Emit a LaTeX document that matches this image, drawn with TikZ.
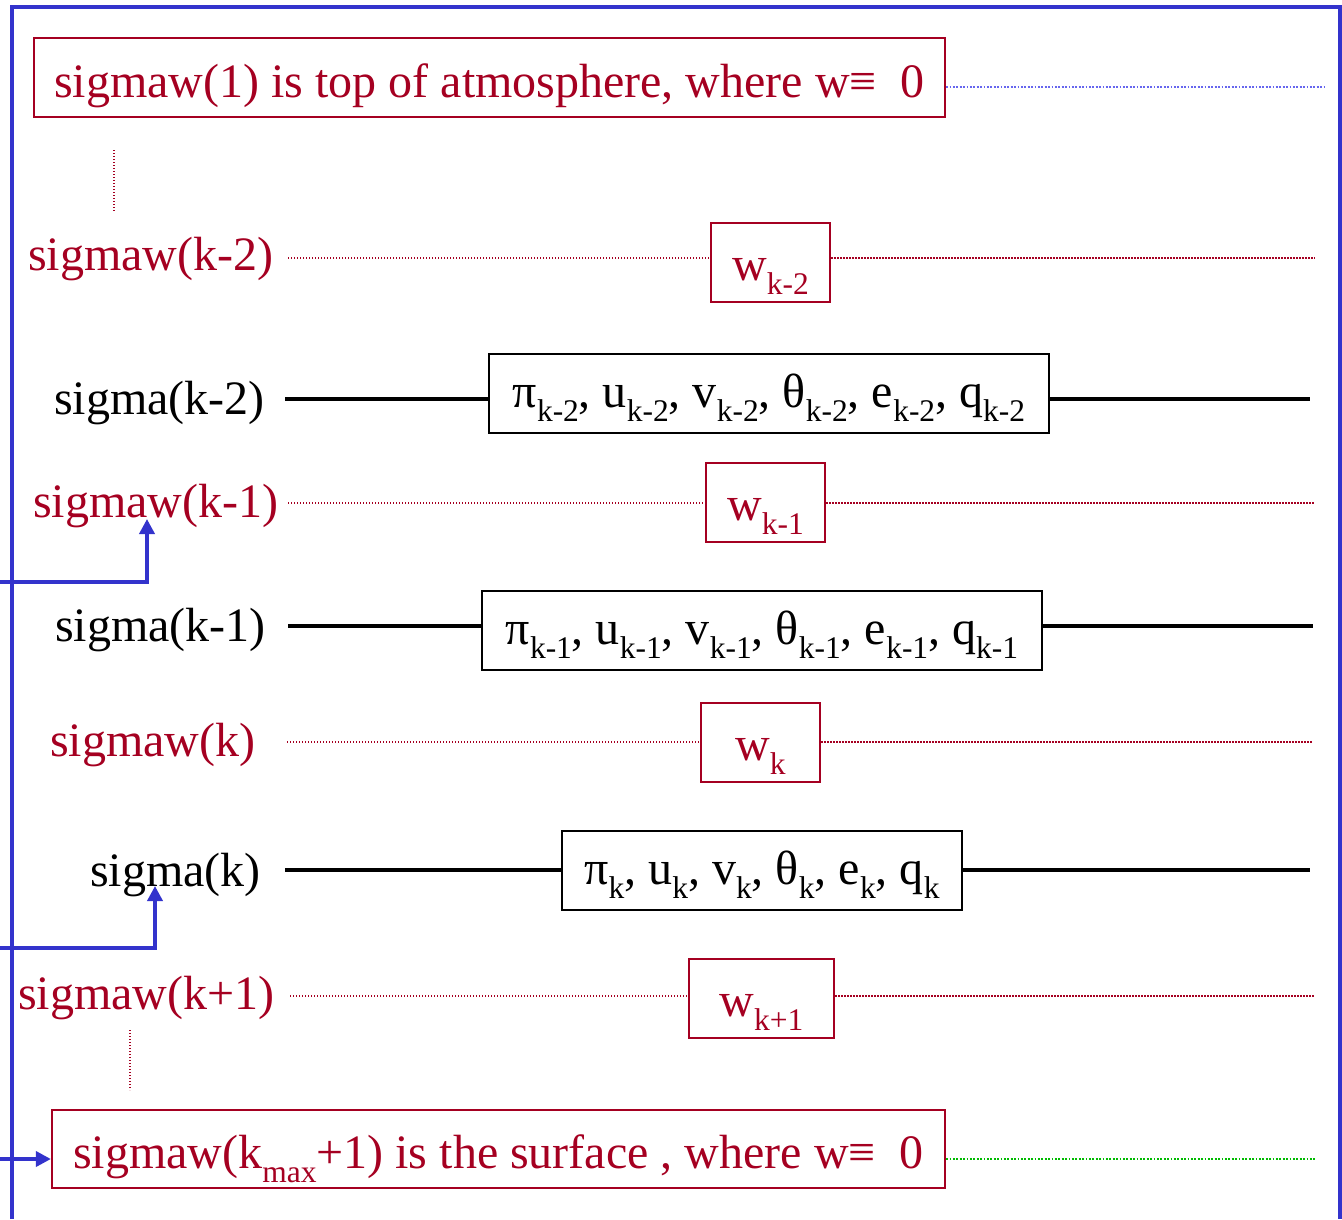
\documentclass[tikz,border=0pt]{standalone}
\usepackage{fontspec}
\setmainfont{Liberation Serif}
\usetikzlibrary{arrows.meta}
\definecolor{wred}{HTML}{A50021}
\definecolor{fblue}{HTML}{3333CC}
\definecolor{dblue}{HTML}{6666EE}
\definecolor{dgreen}{HTML}{00BB00}
\newcommand\bigtxt{\fontsize{48}{57}\selectfont}
\newcommand\mysub[1]{\raisebox{-14pt}{\fontsize{31.5}{31.5}\selectfont #1}}
\begin{document}
\begin{tikzpicture}[x=1pt,y=-1pt,
  redbox/.style={draw=wred,line width=2.2pt,inner sep=0pt,text=wred,font=\bigtxt,text depth=0pt},
  blkbox/.style={draw=black,line width=2.2pt,inner sep=0pt,font=\bigtxt,text depth=0pt},
  wbox/.style={redbox,minimum width=119pt,minimum height=79pt,text height=35pt},
  varbox/.style={blkbox,minimum height=79pt,text height=27pt},
  redlbl/.style={inner sep=0pt,anchor=base west,text=wred,font=\bigtxt},
  blklbl/.style={inner sep=0pt,anchor=base west,font=\bigtxt},
  reddot/.style={wred,line width=1.4pt,dash pattern=on 1.4pt off 1.6pt},
  bluedot/.style={dblue,line width=1.8pt,dash pattern=on 1.8pt off 1.6pt},
  greendot/.style={dgreen,line width=1.8pt,dash pattern=on 1.8pt off 1.6pt},
  level/.style={black,line width=4pt},
  frame/.style={fblue,line width=4pt},
  barrow/.style={fblue,line width=3.6pt,-{Triangle[width=15pt,length=15pt]}}
]
\useasboundingbox (0,0) rectangle (1342,1219);
% frame
\draw[frame] (12,1219) -- (12,7) -- (1342,7);
\draw[frame] (1340,7) -- (1340,1219);

% top box
\node[redbox,minimum width=911pt,minimum height=79pt,text height=39pt] (top) at (489.5,77.5)
  {sigmaw(1) is top of atmosphere, where w≡~~0};
\coordinate (topend) at (1326,87);
\draw[bluedot] (top.east |- topend) -- (topend);

\coordinate (vd1a) at (114,150);
\coordinate (vd1b) at (114,212);
\draw[reddot] (vd1a) -- (vd1b);

% sigmaw(k-2)
\node[redlbl] (lw2) at (28,270) {sigmaw(k-2)};
\node[wbox] (w2) at (770.5,262.5) {w\mysub{k-2}};
\coordinate (s1) at (288,258); \coordinate (e1) at (1315,258);
\draw[reddot] (s1) -- (s1 -| w2.west) (s1 -| w2.east) -- (e1);

% sigma(k-2)
\node[blklbl] (ls2) at (54,414) {sigma(k-2)};
\node[varbox,minimum width=560pt] (v2) at (769,393.5)
  {π\mysub{k-2}, u\mysub{k-2}, v\mysub{k-2}, θ\mysub{k-2}, e\mysub{k-2}, q\mysub{k-2}};
\coordinate (s2) at (285,399); \coordinate (e2) at (1310,399);
\draw[level] (s2) -- (s2 -| v2.west) (s2 -| v2.east) -- (e2);

% sigmaw(k-1)
\node[redlbl] (lw1) at (33,517) {sigmaw(k-1)};
\node[wbox] (w1) at (765.5,502.5) {w\mysub{k-1}};
\coordinate (s3) at (288,503); \coordinate (e3) at (1315,503);
\draw[reddot] (s3) -- (s3 -| w1.west) (s3 -| w1.east) -- (e3);

% sigma(k-1)
\node[blklbl] (ls1) at (55,641) {sigma(k-1)};
\node[varbox,minimum width=560pt] (v1) at (762,630.5)
  {π\mysub{k-1}, u\mysub{k-1}, v\mysub{k-1}, θ\mysub{k-1}, e\mysub{k-1}, q\mysub{k-1}};
\coordinate (s4) at (288,626); \coordinate (e4) at (1313,626);
\draw[level] (s4) -- (s4 -| v1.west) (s4 -| v1.east) -- (e4);

% sigmaw(k)
\node[redlbl] (lw0) at (50,756) {sigmaw(k)};
\node[wbox] (w0) at (760.5,742.5) {w\mysub{k}};
\coordinate (s5) at (287,742); \coordinate (e5) at (1313,742);
\draw[reddot] (s5) -- (s5 -| w0.west) (s5 -| w0.east) -- (e5);

% sigma(k)
\node[blklbl] (ls0) at (90,886) {sigma(k)};
\node[varbox,minimum width=400pt] (v0) at (762,870.5)
  {π\mysub{k}, u\mysub{k}, v\mysub{k}, θ\mysub{k}, e\mysub{k}, q\mysub{k}};
\coordinate (s6) at (285,870); \coordinate (e6) at (1310,870);
\draw[level] (s6) -- (s6 -| v0.west) (s6 -| v0.east) -- (e6);

% sigmaw(k+1)
\node[redlbl] (lwp) at (18,1009) {sigmaw(k+1)};
\node[wbox,minimum width=145pt] (wp) at (761.5,998.5) {w\mysub{k+1}};
\coordinate (s7) at (290,996); \coordinate (e7) at (1315,996);
\draw[reddot] (s7) -- (s7 -| wp.west) (s7 -| wp.east) -- (e7);

\coordinate (vd2a) at (130,1030);
\coordinate (vd2b) at (130,1090);
\draw[reddot] (vd2a) -- (vd2b);

% bottom box
\node[redbox,minimum width=893pt,minimum height=78pt,text height=38pt] (bot) at (498.5,1149)
  {sigmaw(k\mysub{max}+1) is the surface , where w≡~~0};
\coordinate (botend) at (1315,1159);
\draw[greendot] (bot.east |- botend) -- (botend);

% blue arrows
\coordinate (a1s) at (0,582); \coordinate (a1t) at (147,519);
\draw[barrow] (a1s) -| (a1t);
\coordinate (a2s) at (0,948); \coordinate (a2t) at (155,886);
\draw[barrow] (a2s) -| (a2t);
\coordinate (a3s) at (0,1159);
\draw[barrow] (a3s) -- (bot.west |- a3s);
\end{tikzpicture}
\end{document}
